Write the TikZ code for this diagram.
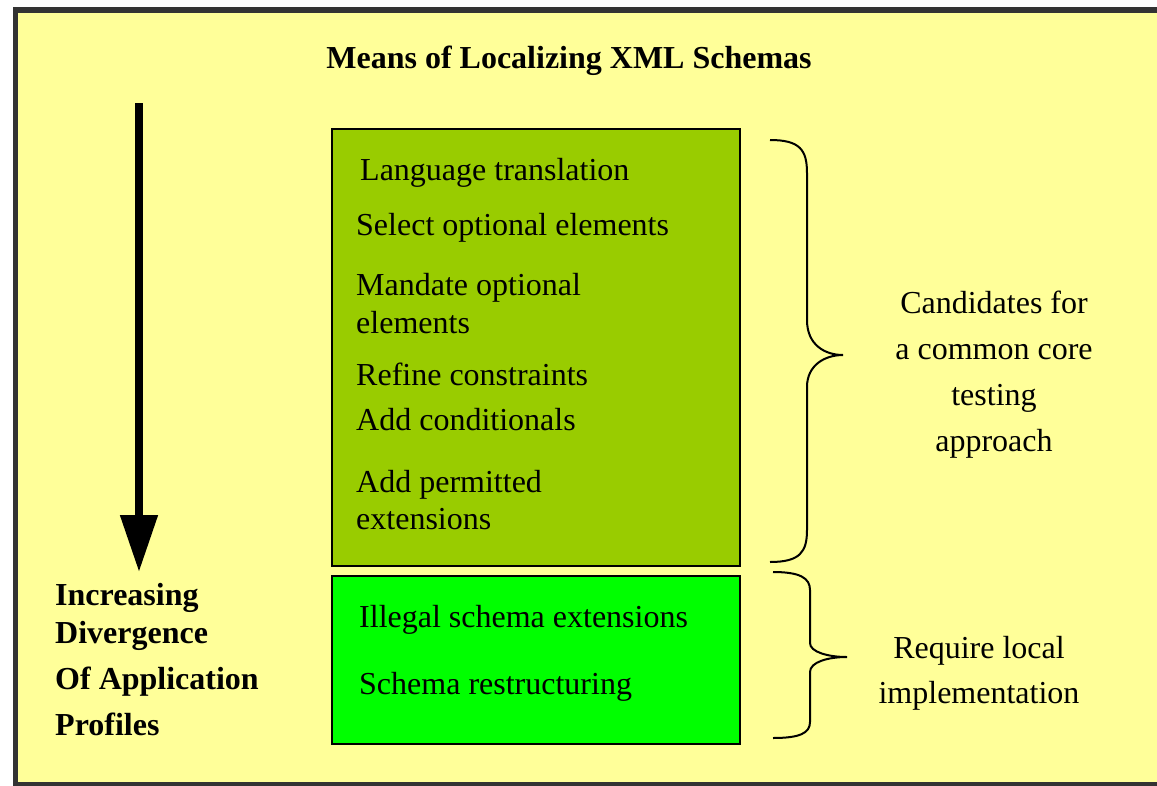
\documentclass[tikz,border=0pt]{standalone}
\usepackage{fontspec}
\setmainfont{Liberation Serif}
\usetikzlibrary{arrows.meta}
\usetikzlibrary{calc}
\definecolor{paper}{HTML}{FFFF99}
\definecolor{frame}{HTML}{333333}
\definecolor{olivebox}{HTML}{99CC00}
\definecolor{limebox}{HTML}{00FF00}
\tikzset{
  bodytext/.style={anchor=base west, inner sep=0pt, font=\fontsize{32}{38}\selectfont},
  boldtext/.style={anchor=base west, inner sep=0pt, font=\fontsize{32}{38}\selectfont\bfseries},
  sidetext/.style={anchor=base, inner sep=0pt, font=\fontsize{32}{38}\selectfont},
  groupbox/.style={draw=black, line width=2pt, anchor=north west, inner sep=0pt},
  bracket/.style={black, line width=2pt}
}
\begin{document}
\begin{tikzpicture}[x=1pt, y=-1pt]
            \useasboundingbox (0,0) rectangle (1157,785);
            \draw[frame, line width=5.5pt, fill=paper] (15.5,10) rectangle (1170,784.5);
            \node[boldtext, anchor=base] (title) at (569,68) {Means of Localizing XML Schemas};
            % the two groups
            \node[groupbox, fill=olivebox, minimum width=408pt, minimum height=437pt] (core) at (331,128) {};
            \node[groupbox, fill=limebox, minimum width=408pt, minimum height=168pt] (local) at (331,575) {};
            \node[bodytext] (lang) at (360,180) {Language translation};
            \node[bodytext] (select) at (356,235) {Select optional elements};
            \node[bodytext] (mandate) at (356,295) {Mandate optional};
            \node[bodytext] (mandate2) at (356,333) {elements};
            \node[bodytext] (refine) at (356,385) {Refine constraints};
            \node[bodytext] (cond) at (356,430) {Add conditionals};
            \node[bodytext] (permit) at (356,492) {Add permitted};
            \node[bodytext] (permit2) at (356,529) {extensions};
            \node[bodytext] (illegal) at (359,627) {Illegal schema extensions};
            \node[bodytext] (restruct) at (359,694) {Schema restructuring};
            % divergence arrow
            \coordinate (arrtop) at (139,103);
            \coordinate (arrtip) at (139,572);
            \draw[black, line width=8pt, -{Triangle[width=36pt, length=57pt]}] (arrtop) -- (arrtip);
            \node[boldtext] (incr) at (55,605) {Increasing};
            \node[boldtext] (div) at (55,643) {Divergence};
            \node[boldtext] (appl) at (55,689) {Of Application};
            \node[boldtext] (prof) at (55,735) {Profiles};
            % braces
            \draw[bracket] (770,140) .. controls (800,140) and (807,150) .. (807,173) -- (807,320)
                .. controls (807,345) and (825,355) .. (843,355)
                .. controls (825,355) and (807,365) .. (807,387) -- (807,530)
                .. controls (807,552) and (800,562) .. (770,562);
            \draw[bracket] (773,572) .. controls (800,572) and (810,578) .. (810,590) -- (810,643)
                .. controls (810,652) and (828,657) .. (847,657)
                .. controls (828,657) and (810,662) .. (810,672) -- (810,722)
                .. controls (810,733) and (800,738) .. (773,738);
            \node[sidetext] (cand1) at (994,313) {Candidates for};
            \node[sidetext] (cand2) at (994,359) {a common core};
            \node[sidetext] (cand3) at (994,405) {testing};
            \node[sidetext] (cand4) at (994,451) {approach};
            \node[sidetext] (req1) at (979,658) {Require local};
            \node[sidetext] (req2) at (979,703) {implementation};
        \end{tikzpicture}
\end{document}
